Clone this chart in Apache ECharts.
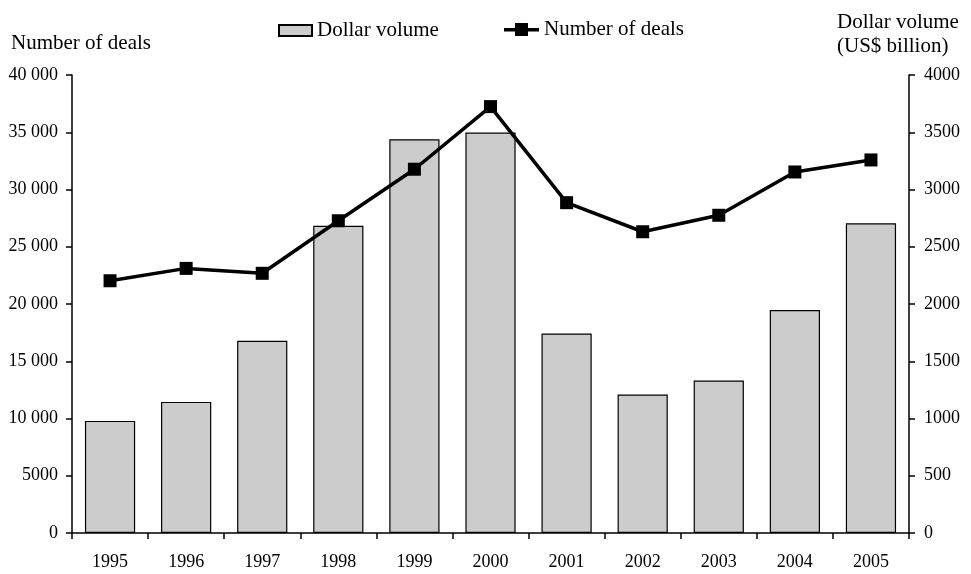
<!DOCTYPE html>
<html>
<head>
<meta charset="utf-8">
<script src="https://cdn.jsdelivr.net/npm/echarts@6/dist/echarts.min.js"></script>
<style>html,body{margin:0;padding:0;background:#fff}#c{width:971px;height:574px}</style>
</head>
<body>
<div id="c"></div>
<script>
var years = ['1995','1996','1997','1998','1999','2000','2001','2002','2003','2004','2005'];
var dollarVolume = [979, 1145, 1678, 2684, 3439, 3497, 1743, 1210, 1332, 1947, 2705];
var numberOfDeals = [22030, 23110, 22680, 27270, 31770, 37240, 28850, 26310, 27750, 31530, 32580];
var leftTicks = [0, 5000, 10000, 15000, 20000, 25000, 30000, 35000, 40000];
var rightTicks = [0, 500, 1000, 1500, 2000, 2500, 3000, 3500, 4000];

var FONT = 'Liberation Serif';
var chart = echarts.init(document.getElementById('c'), null, {renderer: 'canvas'});

function fmtLeft(v) {
  if (v >= 10000) {
    var s = String(v);
    return s.slice(0, s.length - 3) + ' ' + s.slice(s.length - 3);
  }
  return String(v);
}

var lineIcon = 'path://M0,5 L11,5 L11,0 L24,0 L24,5 L35,5 L35,8.5 L24,8.5 L24,13 L11,13 L11,8.5 L0,8.5 Z';

var option = {
  backgroundColor: '#ffffff',
  animation: false,
  textStyle: {fontFamily: FONT},
  grid: {left: 72, right: 62, top: 75, bottom: 41, containLabel: false},
  legend: [
    {
      data: [{name: 'Dollar volume', icon: 'rect'}],
      left: 273, top: 15,
      itemWidth: 33, itemHeight: 11,
      itemGap: 4,
      textStyle: {fontFamily: FONT, fontSize: 21, color: '#000'}
    },
    {
      data: [{name: 'Number of deals', icon: lineIcon, itemStyle: {color: '#000', borderWidth: 0}}],
      left: 499, top: 14,
      itemWidth: 35, itemHeight: 13,
      textStyle: {fontFamily: FONT, fontSize: 21, color: '#000'}
    }
  ],
  xAxis: {
    type: 'category',
    data: years,
    boundaryGap: true,
    axisLine: {lineStyle: {color: '#000', width: 1.5}},
    axisTick: {show: true, alignWithLabel: false, length: 6, inside: false, lineStyle: {color: '#000', width: 1.5}},
    axisLabel: {fontFamily: FONT, fontSize: 18, color: '#000', margin: 20}
  },
  yAxis: [
    {
      type: 'value', min: 0, max: 40000, interval: 5000,
      position: 'left',
      axisLine: {show: true, lineStyle: {color: '#000', width: 1.5}},
      axisTick: {show: true, length: 6, lineStyle: {color: '#000', width: 1.5}},
      splitLine: {show: false},
      axisLabel: {fontFamily: FONT, fontSize: 18, color: '#000', margin: 14,
        formatter: function (v) { return leftTicks.indexOf(v) >= 0 ? fmtLeft(v) : ''; }}
    },
    {
      type: 'value', min: 0, max: 4000, interval: 500,
      position: 'right',
      axisLine: {show: true, lineStyle: {color: '#000', width: 1.5}},
      axisTick: {show: true, length: 6, lineStyle: {color: '#000', width: 1.5}},
      splitLine: {show: false},
      axisLabel: {fontFamily: FONT, fontSize: 18, color: '#000', margin: 15,
        formatter: function (v) { return rightTicks.indexOf(v) >= 0 ? String(v) : ''; }}
    }
  ],
  graphic: [
    {type: 'text', left: 11, top: 33, style: {text: 'Number of deals', font: '21px "Liberation Serif"', fill: '#000'}},
    {type: 'text', left: 837, top: 12, style: {text: 'Dollar volume', font: '21px "Liberation Serif"', fill: '#000'}},
    {type: 'text', left: 837, top: 36, style: {text: '(US$ billion)', font: '21px "Liberation Serif"', fill: '#000'}}
  ],
  series: [
    {
      name: 'Dollar volume',
      type: 'bar',
      yAxisIndex: 1,
      data: dollarVolume,
      barWidth: '66%',
      itemStyle: {color: '#cccccc', borderColor: '#000', borderWidth: 1.2}
    },
    {
      name: 'Number of deals',
      type: 'line',
      yAxisIndex: 0,
      data: numberOfDeals,
      symbol: 'rect',
      symbolSize: 13,
      lineStyle: {color: '#000', width: 3.5},
      itemStyle: {color: '#000'},
      z: 5
    }
  ]
};
chart.setOption(option);
</script>
</body>
</html>
